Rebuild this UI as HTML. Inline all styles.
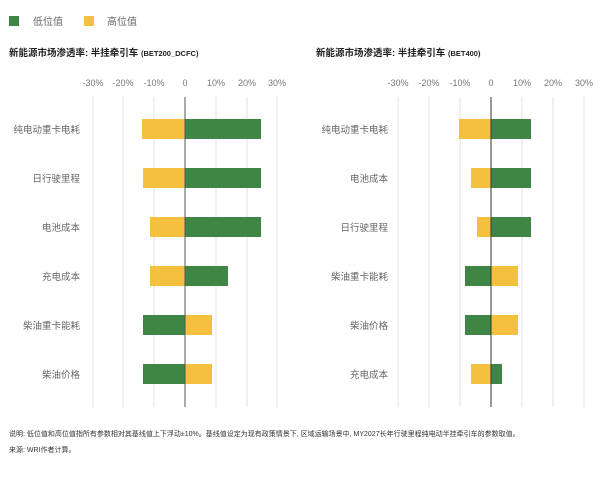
<!DOCTYPE html>
<html><head><meta charset="utf-8"><style>
body{margin:0;background:#fff;}
svg text{font-family:"Liberation Sans","Noto Sans CJK SC",sans-serif;}
</style></head><body>
<svg width="600" height="473" viewBox="0 0 600 473" xmlns="http://www.w3.org/2000/svg">
<rect x="9" y="16" width="10" height="10" fill="#3f8545"/>
<text x="33" y="25" font-size="10" fill="#666">低位值</text>
<rect x="84" y="16" width="10" height="10" fill="#f4c03e"/>
<text x="107" y="25" font-size="10" fill="#666">高位值</text>
<text x="9" y="56" font-size="9.5" font-weight="bold" fill="#222">新能源市场渗透率: 半挂牵引车 <tspan font-size="7.5">(BET200_DCFC)</tspan></text>
<text x="316" y="56" font-size="9.5" font-weight="bold" fill="#222">新能源市场渗透率: 半挂牵引车 <tspan font-size="7.5">(BET400)</tspan></text>
<g font-size="9" fill="#777" text-anchor="middle">
<text x="93" y="86">-30%</text><text x="123" y="86">-20%</text><text x="154" y="86">-10%</text><text x="185" y="86">0</text><text x="216" y="86">10%</text><text x="247" y="86">20%</text><text x="277" y="86">30%</text>
<text x="398" y="86">-30%</text><text x="429" y="86">-20%</text><text x="460" y="86">-10%</text><text x="491" y="86">0</text><text x="522" y="86">10%</text><text x="553" y="86">20%</text><text x="584" y="86">30%</text>
</g>
<g stroke="#e2e2e2" stroke-width="1">
<line x1="93" y1="97" x2="93" y2="407"/><line x1="123" y1="97" x2="123" y2="407"/><line x1="154" y1="97" x2="154" y2="407"/><line x1="216" y1="97" x2="216" y2="407"/><line x1="247" y1="97" x2="247" y2="407"/><line x1="277" y1="97" x2="277" y2="407"/>
<line x1="398" y1="97" x2="398" y2="407"/><line x1="429" y1="97" x2="429" y2="407"/><line x1="460" y1="97" x2="460" y2="407"/><line x1="522" y1="97" x2="522" y2="407"/><line x1="553" y1="97" x2="553" y2="407"/><line x1="584" y1="97" x2="584" y2="407"/>
</g>
<g fill="#f4c03e">
<rect x="142" y="119" width="43" height="20"/><rect x="143" y="168" width="42" height="20"/><rect x="150" y="217" width="35" height="20"/><rect x="150" y="266" width="35" height="20"/><rect x="185" y="315" width="27" height="20"/><rect x="185" y="364" width="27" height="20"/>
<rect x="459" y="119" width="32" height="20"/><rect x="471" y="168" width="20" height="20"/><rect x="477" y="217" width="14" height="20"/><rect x="491" y="266" width="27" height="20"/><rect x="491" y="315" width="27" height="20"/><rect x="471" y="364" width="20" height="20"/>
</g>
<g fill="#3f8545">
<rect x="185" y="119" width="76" height="20"/><rect x="185" y="168" width="76" height="20"/><rect x="185" y="217" width="76" height="20"/><rect x="185" y="266" width="43" height="20"/><rect x="143" y="315" width="42" height="20"/><rect x="143" y="364" width="42" height="20"/>
<rect x="491" y="119" width="40" height="20"/><rect x="491" y="168" width="40" height="20"/><rect x="491" y="217" width="40" height="20"/><rect x="465" y="266" width="26" height="20"/><rect x="465" y="315" width="26" height="20"/><rect x="491" y="364" width="11" height="20"/>
</g>
<line x1="185" y1="97" x2="185" y2="407" stroke="#555" stroke-width="1"/>
<line x1="491" y1="97" x2="491" y2="407" stroke="#333" stroke-width="1"/>
<g font-size="9.5" fill="#666" text-anchor="end">
<text x="80" y="133">纯电动重卡电耗</text><text x="80" y="182">日行驶里程</text><text x="80" y="231">电池成本</text><text x="80" y="280">充电成本</text><text x="80" y="329">柴油重卡能耗</text><text x="80" y="378">柴油价格</text>
<text x="388" y="133">纯电动重卡电耗</text><text x="388" y="182">电池成本</text><text x="388" y="231">日行驶里程</text><text x="388" y="280">柴油重卡能耗</text><text x="388" y="329">柴油价格</text><text x="388" y="378">充电成本</text>
</g>
<text x="9" y="436" font-size="7" fill="#333">说明: 低位值和高位值指所有参数相对其基线值上下浮动±10%。基线值设定为现有政策情景下, 区域运输场景中, MY2027长年行驶里程纯电动半挂牵引车的参数取值。</text>
<text x="9" y="452" font-size="7" fill="#333">来源: WRI作者计算。</text>
</svg>
</body></html>
